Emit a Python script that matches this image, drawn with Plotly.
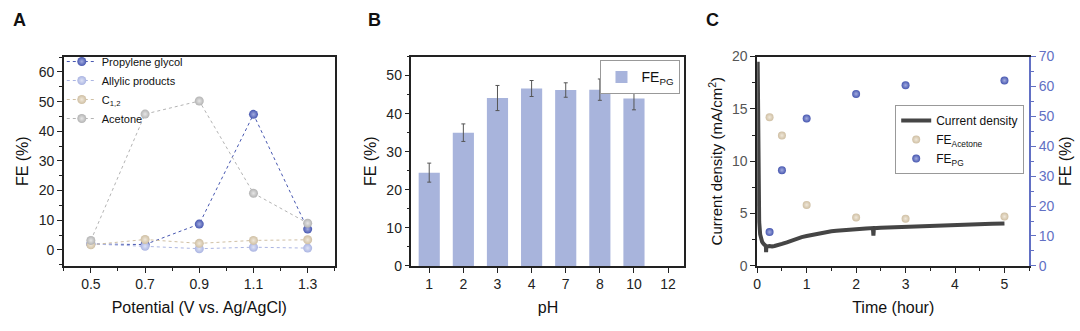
import plotly.graph_objects as go

# ---------- Panel A data ----------
potential = [0.5, 0.7, 0.9, 1.1, 1.3]
fe_pg_A = [2.0, 1.8, 8.7, 45.7, 7.0]
fe_allylic_A = [2.0, 1.2, 0.4, 0.9, 0.6]
fe_c12_A = [1.7, 3.5, 2.2, 3.2, 3.4]
fe_acetone_A = [3.2, 45.8, 50.2, 19.1, 9.0]

# ---------- Panel B data ----------
ph_labels = ["1", "2", "3", "4", "7", "8", "10", "12"]
fe_pg_B = [24.5, 35.0, 44.1, 46.6, 46.2, 46.3, 44.0, None]
fe_pg_B_err = [2.5, 2.3, 3.3, 2.1, 1.9, 2.8, 3.0, None]

# ---------- Panel C data ----------
time_pts = [0.25, 0.5, 1, 2, 3, 5]
fe_acetone_C = [49.7, 43.6, 20.4, 16.2, 15.8, 16.5]
fe_pg_C = [11.3, 32.0, 49.3, 57.5, 60.4, 62.0]
cd_time = [0.01, 0.02, 0.04, 0.06, 0.08, 0.1, 0.13, 0.16, 0.175, 0.18, 0.185,
           0.2, 0.25, 0.3, 0.35, 0.4, 0.45, 0.5, 0.6, 0.7, 0.8, 0.9, 1.0,
           1.1, 1.2, 1.3, 1.4, 1.5, 1.6, 1.8, 2.0, 2.2, 2.34, 2.35, 2.36,
           2.5, 2.75, 3.0, 3.25, 3.5, 3.75, 4.0, 4.25, 4.5, 4.75, 5.0]
cd_value = [19.5, 8.0, 4.2, 3.0, 2.5, 2.3, 2.1, 2.0, 1.9, 1.3, 1.9,
            1.85, 1.9, 1.85, 1.9, 1.95, 2.0, 2.1, 2.25, 2.45, 2.6, 2.75, 2.85,
            2.95, 3.05, 3.1, 3.2, 3.3, 3.35, 3.45, 3.5, 3.58, 3.62, 2.9, 3.6,
            3.65, 3.7, 3.75, 3.8, 3.85, 3.9, 3.93, 3.97, 4.0, 4.02, 4.05]

C_PG = "#4757b0"
C_PG_HI = "#a3acdf"
C_ALL = "#aab4e2"
C_ALL_HI = "#dde2f5"
C_C12 = "#cfbfa3"
C_C12_HI = "#f0e8da"
C_ACE = "#b3b3b3"
C_ACE_HI = "#e6e6e6"
C_BAR = "#a8b4dc"
C_RIGHT = "#6270c4"
FONT = "Liberation Sans, Arial, sans-serif"

fig = go.Figure()

def sphere(color, hi, size):
    return dict(color=color, size=size,
                gradient=dict(type="radial", color=hi),
                line=dict(width=0))

for name, ys, col, hi in [("Propylene glycol", fe_pg_A, C_PG, C_PG_HI),
                          ("Allylic products", fe_allylic_A, C_ALL, C_ALL_HI),
                          ("C<sub>1,2</sub>", fe_c12_A, C_C12, C_C12_HI),
                          ("Acetone", fe_acetone_A, C_ACE, C_ACE_HI)]:
    fig.add_trace(go.Scatter(x=potential, y=ys, name=name, mode="lines+markers",
                             line=dict(color=col, width=1, dash="dot"),
                             marker=sphere(col, hi, 9), xaxis="x", yaxis="y",
                             legend="legend"))

fig.add_trace(go.Bar(x=ph_labels, y=fe_pg_B, name="FE<sub>PG</sub>",
                     marker=dict(color=C_BAR, line=dict(width=0)), width=0.62,
                     error_y=dict(type="data", array=fe_pg_B_err, color="#555555",
                                  thickness=1, width=2),
                     xaxis="x2", yaxis="y2", legend="legend2"))

fig.add_trace(go.Scatter(x=cd_time, y=cd_value, name="Current density", mode="lines",
                         line=dict(color="#454545", width=4), xaxis="x3", yaxis="y3",
                         legend="legend3"))
fig.add_trace(go.Scatter(x=time_pts, y=fe_acetone_C, name="FE<sub>Acetone</sub>",
                         mode="markers", marker=sphere(C_C12, C_C12_HI, 8),
                         xaxis="x3", yaxis="y4", legend="legend3"))
fig.add_trace(go.Scatter(x=time_pts, y=fe_pg_C, name="FE<sub>PG</sub>",
                         mode="markers", marker=sphere(C_PG, C_PG_HI, 8),
                         xaxis="x3", yaxis="y4", legend="legend3"))

H = 331.0
W = 1080.0
ydom = [1 - 271 / H, 1 - 51 / H]
TITLE_FONT = dict(family=FONT, size=16, color="#111111")

def ax(**kw):
    base = dict(showline=True, linecolor="#222222", linewidth=1.5, mirror=True,
                ticks="outside", ticklen=5, tickwidth=1, tickcolor="#222222",
                showgrid=False, zeroline=False,
                tickfont=dict(family=FONT, size=14, color="#222222"))
    base.update(kw)
    return base

minor_style = dict(ticks="outside", ticklen=3, tickcolor="#222222")

fig.update_layout(
    width=1080, height=331,
    margin=dict(l=0, r=0, t=0, b=0),
    paper_bgcolor="white", plot_bgcolor="white",
    font=dict(family=FONT, color="#222222"),
    showlegend=True,
    xaxis=ax(domain=[60 / W, 332 / W], range=[0.4, 1.4], tick0=0.5, dtick=0.2,
             minor=dict(dtick=0.1, **minor_style), anchor="y",
             title=dict(text="Potential (V vs. Ag/AgCl)", standoff=10, font=TITLE_FONT)),
    yaxis=ax(domain=ydom, range=[-5.4, 65.2], tick0=0, dtick=10,
             minor=dict(dtick=5, **minor_style), anchor="x",
             title=dict(text="FE (%)", standoff=6, font=TITLE_FONT)),
    xaxis2=ax(domain=[409 / W, 683 / W], type="category", range=[-0.52, 7.48],
              anchor="y2",
              title=dict(text="pH", standoff=10, font=TITLE_FONT)),
    yaxis2=ax(domain=ydom, range=[0, 55], dtick=10,
              minor=dict(dtick=5, **minor_style), anchor="x2",
              title=dict(text="FE (%)", standoff=6, font=TITLE_FONT)),
    xaxis3=ax(domain=[756 / W, 1029 / W], range=[0, 5.5], dtick=1,
              minor=dict(dtick=0.5, **minor_style), anchor="y3",
              title=dict(text="Time (hour)", standoff=10, font=TITLE_FONT)),
    yaxis3=ax(domain=ydom, range=[0, 20], dtick=5, anchor="x3", mirror=False,
              minor=dict(dtick=2.5, **minor_style),
              tickfont=dict(family=FONT, size=14, color="#555555"),
              title=dict(text="Current density (mA/cm<sup>2</sup>)", standoff=6,
                         font=dict(family=FONT, size=15, color="#111111"))),
    yaxis4=ax(domain=ydom, range=[0, 70], dtick=10, anchor="x3", overlaying="y3",
              side="right", mirror=False, linecolor=C_RIGHT, tickcolor=C_RIGHT,
              minor=dict(dtick=5, ticks="outside", ticklen=3, tickcolor=C_RIGHT),
              tickfont=dict(family=FONT, size=14, color=C_RIGHT),
              title=dict(text="FE (%)", standoff=6, font=TITLE_FONT)),
    legend=dict(x=58 / W, y=1 - 41 / H, xanchor="left", yanchor="top",
                bgcolor="rgba(0,0,0,0)", borderwidth=0,
                font=dict(family=FONT, size=11, color="#111111"),
                tracegroupgap=0, itemwidth=30),
    legend2=dict(x=679 / W, y=1 - 55 / H, xanchor="right", yanchor="top",
                 bgcolor="white", bordercolor="#999999", borderwidth=1,
                 font=dict(family=FONT, size=14, color="#111111")),
    legend3=dict(x=1024 / W, y=1 - 102 / H, xanchor="right", yanchor="top",
                 bgcolor="white", bordercolor="#999999", borderwidth=1,
                 font=dict(family=FONT, size=12, color="#111111"),
                 tracegroupgap=0),
    annotations=[
        dict(text="<b>A</b>", x=7 / W, y=1.0, xref="paper", yref="paper",
             xanchor="left", yanchor="top", showarrow=False,
             font=dict(family=FONT, size=18, color="#111111")),
        dict(text="<b>B</b>", x=363 / W, y=1.0, xref="paper", yref="paper",
             xanchor="left", yanchor="top", showarrow=False,
             font=dict(family=FONT, size=18, color="#111111")),
        dict(text="<b>C</b>", x=703 / W, y=1.0, xref="paper", yref="paper",
             xanchor="left", yanchor="top", showarrow=False,
             font=dict(family=FONT, size=18, color="#111111")),
    ],
)

fig.write_html("out.html")
